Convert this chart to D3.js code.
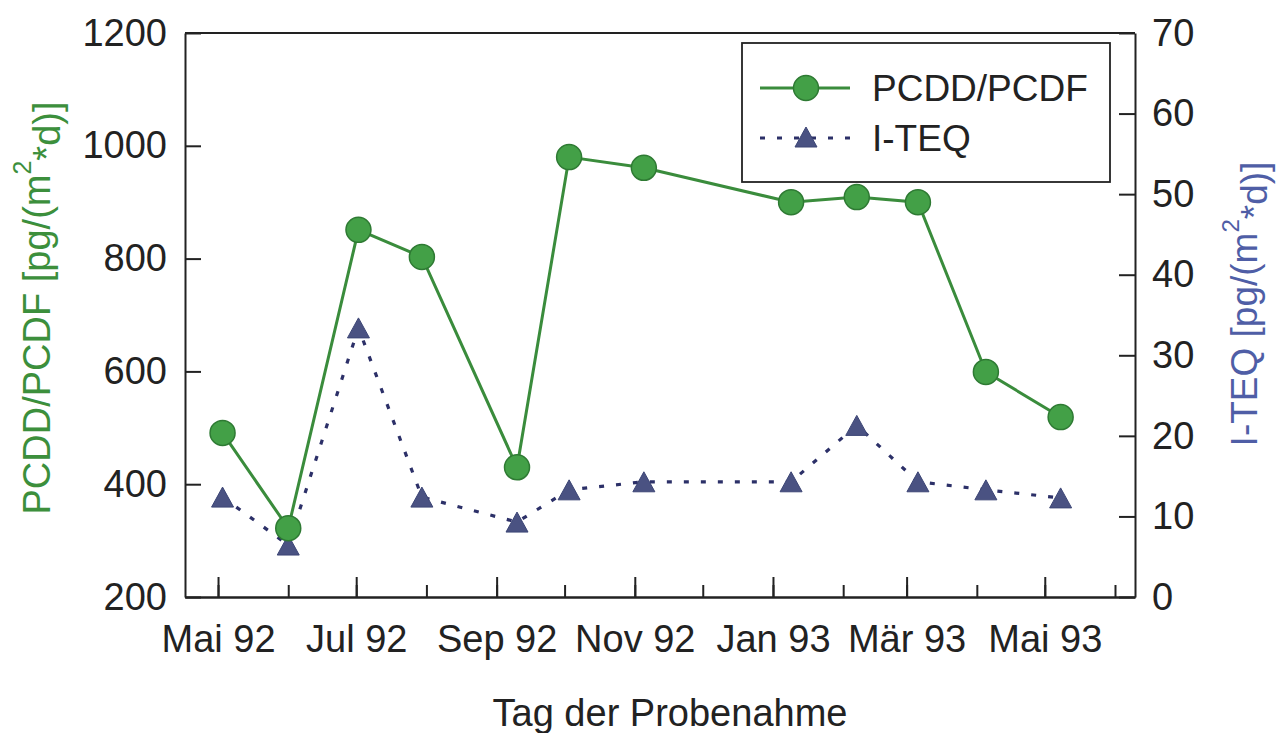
<!DOCTYPE html>
<html><head><meta charset="utf-8">
<script src="https://cdn.jsdelivr.net/npm/d3@7"></script>
<style>
html,body{margin:0;padding:0;background:#fff;}
svg{display:block;font-family:"Liberation Sans",Arial,sans-serif;}
</style></head>
<body><svg id="c" width="1277" height="733"></svg>
<script>
// ---- data ----
const sampleDates = ["1992-05-03","1992-06-01","1992-07-02","1992-07-30","1992-09-10","1992-10-03","1992-11-05","1993-01-09","1993-02-07","1993-03-06","1993-04-05","1993-05-08"];
const pcdd = [491, 322, 851, 803, 430, 980, 961, 900, 909, 900, 599, 519];
const iteq = [12.4, 6.45, 33.4, 12.4, 9.3, 13.3, 14.3, 14.3, 21.3, 14.3, 13.3, 12.3];
const leftTicks = [200, 400, 600, 800, 1000, 1200];
const rightTicks = [0, 10, 20, 30, 40, 50, 60, 70];
const monthLabels = ["Mai 92","Jul 92","Sep 92","Nov 92","Jan 93","Mär 93","Mai 93"];
const seriesNames = ["PCDD/PCDF", "I-TEQ"];

const parse = d3.timeParse("%Y-%m-%d");
const dates = sampleDates.map(parse);

const L = 185, R = 1135, T = 33, B = 597;
const svg = d3.select("#c");

const x = d3.scaleTime()
  .domain([new Date(1992,3,16,10), new Date(1993,5,9,20)])
  .range([L, R]);
const yL = d3.scaleLinear().domain([200, 1200]).range([B, T]);
const yR = d3.scaleLinear().domain([0, 70]).range([B, T]);

const textCol = "#222";
const green = "#3a8c3c", greenDark = "#2e7a33", greenFill = "#43a047";
const navy = "#2c3068", triFill = "#4a5282";

// axes
const monthly = d3.timeMonth.range(new Date(1992,4,1), new Date(1993,5,2));
const major = monthly.filter((d,i) => i % 2 === 0);

const gMinor = svg.append("g").attr("transform", `translate(0,${B})`)
  .call(d3.axisBottom(x).tickValues(monthly).tickSize(-12).tickSizeOuter(0).tickFormat(""));
const gMajor = svg.append("g").attr("transform", `translate(0,${B})`)
  .call(d3.axisBottom(x).tickValues(major).tickSize(-20).tickSizeOuter(0).tickPadding(28)
    .tickFormat((d,i) => monthLabels[i]));
const gL = svg.append("g").attr("transform", `translate(${L},0)`)
  .call(d3.axisLeft(yL).tickValues(leftTicks).tickSize(-16).tickSizeOuter(0).tickPadding(18)
    .tickFormat(d3.format("d")));
const gR = svg.append("g").attr("transform", `translate(${R},0)`)
  .call(d3.axisRight(yR).tickValues(rightTicks).tickSize(-16).tickSizeOuter(0).tickPadding(17)
    .tickFormat(d3.format("d")));

[gMinor, gMajor, gL, gR].forEach(g => {
  g.selectAll("path.domain").attr("stroke", textCol).attr("stroke-width", 2);
  g.selectAll(".tick line").attr("stroke", textCol).attr("stroke-width", 2);
  g.selectAll(".tick text").attr("fill", textCol).style("font-size", "38px")
    .style("font-family", '"Liberation Sans",Arial,sans-serif');
});
// top border
svg.append("line").attr("x1", L).attr("x2", R).attr("y1", T).attr("y2", T)
  .attr("stroke", textCol).attr("stroke-width", 2);

// axis titles
svg.append("text").attr("x", (L+R)/2 + 10).attr("y", 726).attr("text-anchor", "middle")
  .attr("fill", textCol).style("font-size", "38px").text("Tag der Probenahme");

function yTitle(xc, yc, label, color, fs) {
  const t = svg.append("text").attr("transform", `translate(${xc},${yc}) rotate(-90)`)
    .attr("text-anchor", "middle").attr("fill", color).style("font-size", fs + "px");
  t.append("tspan").text(label + " [pg/(m");
  t.append("tspan").attr("dy", "-0.75em").style("font-size", Math.round(fs*0.65) + "px").text("2");
  t.append("tspan").attr("dy", "0.75em").text("*d)]");
}
yTitle(50, 308, "PCDD/PCDF", "#3c8f3c", 38);
yTitle(1257, 304, "I-TEQ", "#4f5ea6", 37);

// I-TEQ dotted line + triangles
const lineR = d3.line().x((d,i) => x(dates[i])).y(d => yR(d));
svg.append("path").datum(iteq).attr("d", lineR).attr("fill", "none")
  .attr("stroke", navy).attr("stroke-width", 3.2).attr("stroke-dasharray", "5,12");
const tri = "M0,-10L11,10L-11,10Z";
svg.append("g").selectAll("path").data(iteq).join("path")
  .attr("transform", (d,i) => `translate(${x(dates[i])},${yR(d)})`)
  .attr("d", tri).attr("fill", triFill).attr("stroke", "#3c4575").attr("stroke-width", 1);

// PCDD line + circles
const lineL = d3.line().x((d,i) => x(dates[i])).y(d => yL(d));
svg.append("path").datum(pcdd).attr("d", lineL).attr("fill", "none")
  .attr("stroke", green).attr("stroke-width", 3);
svg.append("g").selectAll("circle").data(pcdd).join("circle")
  .attr("cx", (d,i) => x(dates[i])).attr("cy", d => yL(d)).attr("r", 12.5)
  .attr("fill", greenFill).attr("stroke", greenDark).attr("stroke-width", 1.5);

// legend
const lg = svg.append("g");
lg.append("rect").attr("x", 742).attr("y", 43).attr("width", 368).attr("height", 139)
  .attr("fill", "#fff").attr("stroke", textCol).attr("stroke-width", 1.8);
lg.append("line").attr("x1", 760).attr("x2", 850).attr("y1", 88).attr("y2", 88)
  .attr("stroke", green).attr("stroke-width", 3);
lg.append("circle").attr("cx", 806).attr("cy", 88).attr("r", 12.5)
  .attr("fill", greenFill).attr("stroke", greenDark).attr("stroke-width", 1.5);
lg.append("line").attr("x1", 760).attr("x2", 850).attr("y1", 138).attr("y2", 138)
  .attr("stroke", navy).attr("stroke-width", 3.2).attr("stroke-dasharray", "5,12");
lg.append("path").attr("transform", "translate(806,137)").attr("d", tri)
  .attr("fill", triFill).attr("stroke", "#3c4575").attr("stroke-width", 1);
lg.selectAll("text.lab").data(seriesNames).join("text").attr("class", "lab")
  .attr("x", 872).attr("y", (d,i) => 88 + i*50).attr("dy", "0.35em")
  .attr("fill", textCol).style("font-size", "37px").text(d => d);
</script></body></html>
